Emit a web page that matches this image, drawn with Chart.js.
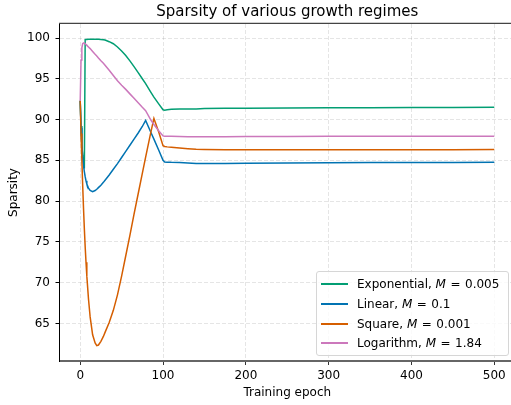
<!DOCTYPE html>
<html>
<head>
<meta charset="utf-8">
<title>Sparsity of various growth regimes</title>
<script src="https://cdn.jsdelivr.net/npm/chart.js@4.4.0/dist/chart.umd.min.js"></script>
<style>
  html, body { margin: 0; padding: 0; overflow: hidden; background: #fff; }
  #wrap { position: relative; width: 516px; height: 405px; }
  #legend {
    position: absolute; left: 316px; top: 271px; width: 193px; height: 85px;
    box-sizing: border-box; border: 1px solid #d6d6d6; border-radius: 3px;
    background: rgba(255, 255, 255, 0.8);
    font-family: 'DejaVu Sans', sans-serif; font-size: 12px; color: #000;
  }
  .row { position: absolute; left: 0; height: 14px; line-height: 14px; white-space: nowrap; }
  .swatch { position: absolute; left: 4px; top: 6px; width: 27px; height: 2px; }
  .label { position: absolute; left: 40px; top: 0; }
  .eq { margin: 0 4.5px; }
</style>
</head>
<body>
<div id="wrap">
  <canvas id="sparsityChart" width="516" height="405"></canvas>
  <div id="legend"></div>
</div>
<script>
// epochs at which sparsity was logged (shared by all runs)
const epochs = [0, 1, 2, 3, 4, 5, 6, 7, 8, 10, 12, 15, 18, 20, 22, 25, 28, 30, 35, 40,
  45, 50, 55, 60, 65, 70, 75, 79, 85, 89, 95, 100, 102, 105, 110, 120, 130, 140, 150,
  175, 200, 250, 300, 350, 400, 450, 500];

const exponential = [92.3, 89.2, 87.0, 85.6, 84.7, 84.0, 99.8, 99.82, 99.83, 99.84, 99.84, 99.84, 99.84, 99.84, 99.84, 99.83, 99.8, 99.75, 99.55, 99.3,
  98.9, 98.4, 97.85, 97.2, 96.5, 95.75, 95.0, 94.4, 93.4, 92.75, 91.9, 91.2, 91.15, 91.2, 91.25, 91.3, 91.3, 91.3, 91.35,
  91.38, 91.4, 91.42, 91.45, 91.46, 91.47, 91.48, 91.5];

const linear = [92.3, 89.0, 86.8, 85.4, 84.4, 83.6, 83.0, 82.5, 82.1, 81.6, 81.3, 81.15, 81.3, 81.45, 81.65, 81.95, 82.3, 82.55, 83.2, 83.9,
  84.6, 85.35, 86.1, 86.85, 87.6, 88.35, 89.15, 89.9, 88.5, 87.6, 86.2, 85.0, 84.8, 84.78, 84.75, 84.72, 84.68, 84.62, 84.6,
  84.62, 84.65, 84.68, 84.7, 84.72, 84.73, 84.74, 84.75];

const square = [92.3, 88.3, 85.0, 81.9, 79.1, 76.6, 74.4, 72.5, 70.8, 68.0, 65.8, 63.6, 62.6, 62.27, 62.35, 62.8, 63.4, 63.9, 65.1, 66.6,
  68.5, 70.8, 73.3, 75.8, 78.4, 80.9, 83.4, 85.4, 88.3, 90.14, 88.4, 86.8, 86.7, 86.65, 86.6, 86.5, 86.42, 86.35, 86.32,
  86.3, 86.3, 86.3, 86.3, 86.3, 86.31, 86.31, 86.32];

const logarithm = [92.3, 97.3, 98.8, 99.3, 99.4, 99.4, 99.3, 99.2, 99.1, 98.9, 98.7, 98.35, 98.0, 97.8, 97.55, 97.2, 96.9, 96.65, 96.05, 95.4,
  94.75, 94.2, 93.7, 93.15, 92.6, 92.05, 91.5, 91.1, 90.0, 89.4, 88.6, 88.0, 87.95, 87.95, 87.95, 87.93, 87.9, 87.88, 87.88,
  87.9, 87.92, 87.93, 87.94, 87.94, 87.95, 87.95, 87.95];

const seriesNames = ['Exponential', 'Linear', 'Square', 'Logarithm'];
const mValues = ['0.005', '0.1', '0.001', '1.84'];
const seriesValues = [exponential, linear, square, logarithm];

const xTicks = [0, 100, 200, 300, 400, 500];
const yTicks = [65, 70, 75, 80, 85, 90, 95, 100];

const colors = ['#029e73', '#0173b2', '#d55e00', '#cc78bc'];
const font = { family: "'DejaVu Sans', sans-serif", size: 12 };

const datasets = seriesNames.map((name, i) => ({
  label: name + ', M = ' + mValues[i],
  data: epochs.map((e, j) => ({ x: e, y: seriesValues[i][j] })),
  borderColor: colors[i],
  backgroundColor: colors[i],
  borderWidth: 1.5,
  pointRadius: 0,
  tension: 0,
  fill: false,
  // later runs sit on top
  order: seriesNames.length - i
}));

// the top frame line of the axes
const topSpine = {
  id: 'topSpine',
  afterDraw(chart) {
    const { ctx, chartArea } = chart;
    ctx.save();
    ctx.strokeStyle = '#444';
    ctx.lineWidth = 1.3;
    ctx.beginPath();
    ctx.moveTo(chartArea.left - 0.5, chartArea.top - 0.6);
    ctx.lineTo(chartArea.right, chartArea.top - 0.6);
    ctx.stroke();
    ctx.restore();
  }
};

new Chart(document.getElementById('sparsityChart'), {
  type: 'line',
  data: { datasets: datasets },
  plugins: [topSpine],
  options: {
    responsive: false,
    animation: false,
    devicePixelRatio: 1,
    layout: { padding: { left: 0, right: 1, top: 0, bottom: 0 } },
    plugins: {
      legend: { display: false },
      tooltip: { enabled: false },
      title: {
        display: true,
        text: 'Sparsity of various growth regimes',
        fullSize: false,
        color: '#000',
        font: { family: "'DejaVu Sans', sans-serif", size: 15, weight: 'normal' },
        padding: { top: 3, bottom: 3 }
      }
    },
    scales: {
      x: {
        type: 'linear',
        min: -25,
        max: 525,
        afterBuildTicks: s => { s.ticks = xTicks.map(v => ({ value: v })); },
        afterFit: s => { s.height = 44; },
        grid: { color: 'rgba(0,0,0,0.1)', lineWidth: 1, tickLength: 4, tickColor: '#333', tickWidth: 1, tickBorderDash: [] },
        border: { color: '#666', width: 2, dash: [4, 2] },
        ticks: { font: font, color: '#000', padding: 3.5, maxRotation: 0, autoSkip: false },
        title: { display: true, text: 'Training epoch', color: '#000', font: font, padding: { top: 0, bottom: 4.8 } }
      },
      y: {
        type: 'linear',
        min: 60.39,
        max: 101.72,
        afterBuildTicks: s => { s.ticks = yTicks.map(v => ({ value: v })); },
        afterFit: s => { s.width = 59.5; },
        grid: { color: 'rgba(0,0,0,0.1)', lineWidth: 1, tickLength: 4, tickColor: '#000', tickWidth: 1, tickBorderDash: [] },
        border: { color: '#000', width: 1, dash: [4, 2] },
        ticks: { font: font, color: '#000', padding: 5.5, autoSkip: false },
        title: { display: true, text: 'Sparsity', color: '#000', font: font, padding: { top: 7, bottom: 0 } }
      }
    }
  }
});

// legend box in the lower right corner of the axes
const legend = document.getElementById('legend');
const rowCenters = [12.3, 31.9, 51.5, 71.1];
seriesNames.forEach((name, i) => {
  const row = document.createElement('div');
  row.className = 'row';
  row.style.top = (rowCenters[i] - 7) + 'px';
  row.innerHTML = '<span class="swatch" style="background:' + colors[i] + '"></span>' +
    '<span class="label">' + name + ', <i>M</i><span class="eq">=</span>' + mValues[i] + '</span>';
  legend.appendChild(row);
});
</script>
</body>
</html>
